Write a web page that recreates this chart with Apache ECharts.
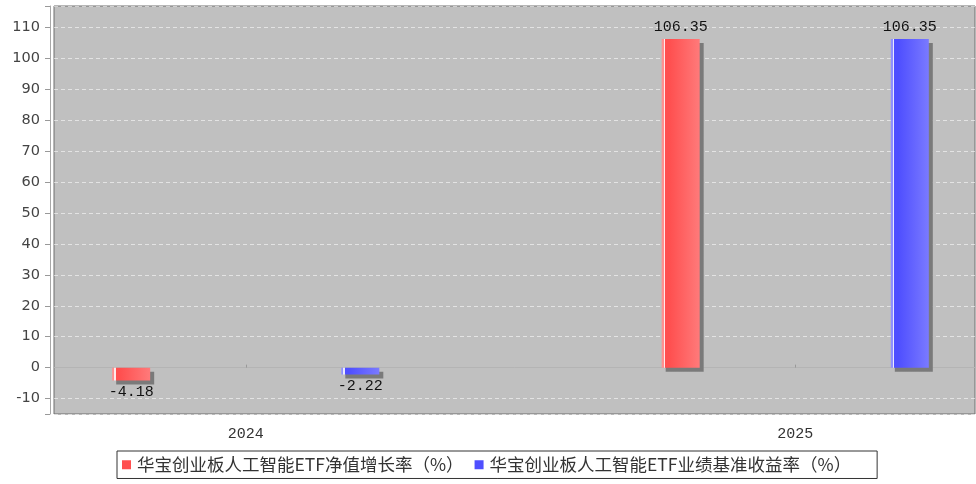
<!DOCTYPE html>
<html>
<head>
<meta charset="utf-8">
<script src="https://cdn.jsdelivr.net/npm/echarts@6/dist/echarts.min.js"></script>
<style>
html,body{margin:0;padding:0;background:#fff;width:976px;height:484px;overflow:hidden;position:relative;}
#chart{position:absolute;left:-40px;top:0;width:1120px;height:484px;}
</style>
</head>
<body>
<div id="chart"></div>
<script>
const categories = ['2024', '2025'];
const navGrowth = [-4.18, 106.35];
const benchmarkReturn = [-2.22, 106.35];
const seriesNames = ['华宝创业板人工智能ETF净值增长率（%）', '华宝创业板人工智能ETF业绩基准收益率（%）'];

function barGradient(edge, stripe, base, light) {
  return new echarts.graphic.LinearGradient(0, 0, 1, 0, [
    { offset: 0, color: edge },
    { offset: 0.05, color: edge },
    { offset: 0.05, color: stripe },
    { offset: 0.09, color: stripe },
    { offset: 0.09, color: base },
    { offset: 0.2, color: base },
    { offset: 1, color: light }
  ]);
}
const redFill = barGradient('#ff9090', '#ffeaea', '#ff4f4f', '#ff7a7a');
const blueFill = barGradient('#9090ff', '#eaeaff', '#4f4fff', '#7a7aff');

const labelFont = { color: '#111', fontFamily: 'Liberation Mono', fontSize: 15, distance: 4 };

function toData(arr) {
  return arr.map(v => ({ value: v, label: { position: v < 0 ? 'bottom' : 'top' } }));
}

// container is shifted 40px left of the window; all positions below are in container px
const chart = echarts.init(document.getElementById('chart'));
chart.setOption({
  animation: false,
  backgroundColor: '#ffffff',
  grid: [
    { left: 94, right: 105, top: 6, bottom: 70, show: true, backgroundColor: '#c0c0c0', borderColor: '#6e6e6e', borderWidth: 1 },
    { left: 11, right: 10, top: 6, bottom: 70, show: false }
  ],
  xAxis: [
    { gridIndex: 0, type: 'category', data: categories, offset: 4,
      axisLine: { show: true, lineStyle: { color: '#b4b4b4', width: 1 } },
      axisTick: { show: false }, axisLabel: { show: false }, splitLine: { show: false } },
    { gridIndex: 1, type: 'category', data: categories, offset: 4,
      axisLine: { show: false },
      axisTick: { show: true, alignWithLabel: true, inside: true, length: 3, lineStyle: { color: '#999' } },
      axisLabel: { margin: 9, color: '#333', fontFamily: 'Liberation Mono', fontSize: 15 },
      splitLine: { show: false } }
  ],
  yAxis: [
    { gridIndex: 0, type: 'value', min: -15, max: 117, minInterval: 10, maxInterval: 10, splitNumber: 13, offset: 4,
      axisLine: { show: true, lineStyle: { color: '#a8a8a8' } },
      axisTick: { show: true, length: 5, lineStyle: { color: '#999' } },
      axisLabel: { margin: 10, color: '#444', fontFamily: 'DejaVu Sans', fontSize: 14.5,
        formatter: v => (Math.abs(v - Math.round(v)) < 1e-6 && Math.round(v) % 10 === 0) ? String(v) : '' },
      splitLine: { show: true, lineStyle: { color: 'rgba(255,255,255,0.55)', type: [4, 3], width: 1 } } },
    { gridIndex: 1, type: 'value', min: -15, max: 117, show: false, splitLine: { show: false } }
  ],
  legend: {
    left: 157, top: 451, orient: 'horizontal',
    itemWidth: 9, itemHeight: 9, itemGap: 11,
    padding: [5, 26, 5, 5],
    borderColor: '#333', borderWidth: 1,
    icon: 'rect',
    textStyle: { color: '#333', fontSize: 17.5, fontFamily: 'Noto Sans CJK SC', padding: [0, 0, 0, 1] },
    data: [
      { name: seriesNames[0], itemStyle: { color: '#ff4f4f', shadowBlur: 0, shadowOffsetX: 0, shadowOffsetY: 0, shadowColor: 'rgba(0,0,0,0)' } },
      { name: seriesNames[1], itemStyle: { color: '#4f4fff', shadowBlur: 0, shadowOffsetX: 0, shadowOffsetY: 0, shadowColor: 'rgba(0,0,0,0)' } }
    ]
  },
  series: [
    { name: seriesNames[0], type: 'bar', xAxisIndex: 1, yAxisIndex: 1,
      barWidth: 38, barGap: '503%',
      data: toData(navGrowth),
      itemStyle: { color: redFill, shadowColor: '#7a7a7a', shadowOffsetX: 4, shadowOffsetY: 4, shadowBlur: 0 },
      label: Object.assign({ show: true }, labelFont) },
    { name: seriesNames[1], type: 'bar', xAxisIndex: 1, yAxisIndex: 1,
      barWidth: 38, barGap: '503%',
      data: toData(benchmarkReturn),
      itemStyle: { color: blueFill, shadowColor: '#7a7a7a', shadowOffsetX: 4, shadowOffsetY: 4, shadowBlur: 0 },
      label: Object.assign({ show: true }, labelFont) }
  ]
});
</script>
</body>
</html>
